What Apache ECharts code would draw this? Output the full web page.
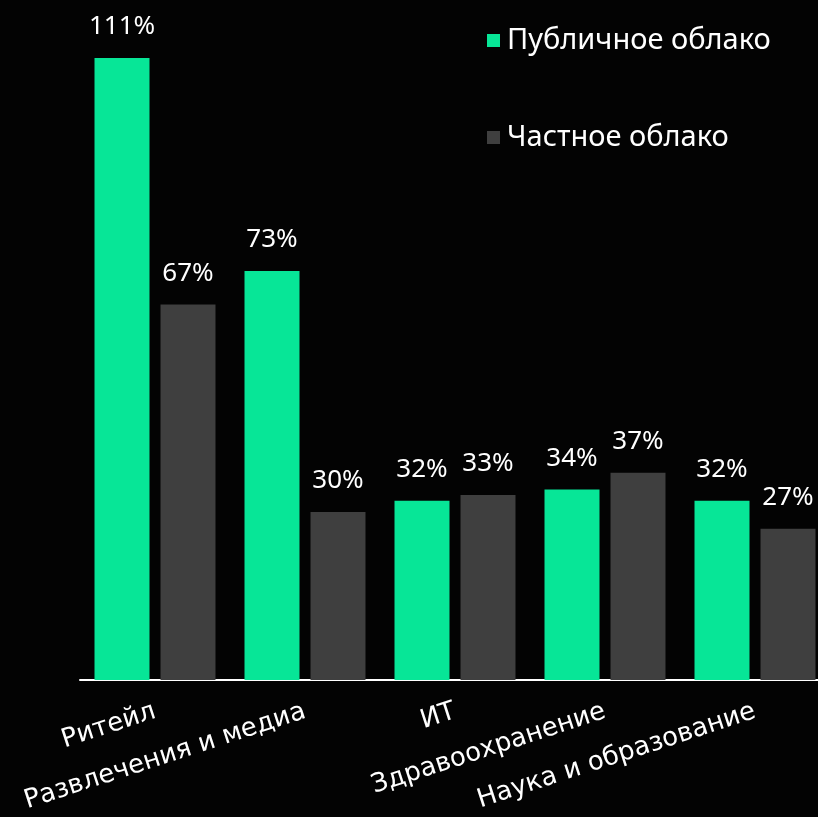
<!DOCTYPE html>
<html>
<head>
<meta charset="utf-8">
<script src="https://cdn.jsdelivr.net/npm/echarts@6/dist/echarts.min.js"></script>
<style>
html,body{margin:0;padding:0;background:#030303;}
#chart{width:818px;height:817px;}
</style>
</head>
<body>
<div id="chart"></div>
<script>
const categories = ['Ритейл', 'Развлечения и медиа', 'ИТ', 'Здравоохранение', 'Наука и образование'];
const publicCloud = [111, 73, 32, 34, 32];
const privateCloud = [67, 30, 33, 37, 27];
const seriesNames = ['Публичное облако', 'Частное облако'];

const chart = echarts.init(document.getElementById('chart'));
const labelStyle = {
  show: true,
  position: 'top',
  distance: 18,
  color: '#ffffff',
  fontSize: 26,
  fontFamily: 'Noto Sans',
  formatter: p => p.value + '%'
};
chart.setOption({
  backgroundColor: '#030303',
  animation: false,
  legend: {
    orient: 'vertical',
    left: 482,
    top: 21,
    itemWidth: 13,
    itemHeight: 13,
    itemGap: 68,
    icon: 'rect',
    textStyle: { color: '#ffffff', fontSize: 29, fontFamily: 'Noto Sans', padding: [0, 0, 0, 2] },
    data: seriesNames
  },
  grid: { left: 80, width: 750, top: 7.6, bottom: 137, containLabel: false, outerBoundsMode: 'none' },
  xAxis: {
    type: 'category',
    data: categories,
    axisLine: { lineStyle: { color: '#ffffff', width: 2 } },
    axisTick: { show: false },
    axisLabel: { rotate: 18, interval: 0, color: '#ffffff', fontSize: 26, fontFamily: 'DejaVu Sans', margin: 31 }
  },
  yAxis: {
    type: 'value', min: 0, max: 120, show: false,
    splitLine: { show: false }
  },
  series: [
    {
      name: seriesNames[0], type: 'bar', data: publicCloud,
      barWidth: 55, barGap: '20%',
      itemStyle: { color: '#07e697' },
      label: labelStyle
    },
    {
      name: seriesNames[1], type: 'bar', data: privateCloud,
      barWidth: 55,
      itemStyle: { color: '#3f3f3f' },
      label: labelStyle
    }
  ]
});
</script>
</body>
</html>
